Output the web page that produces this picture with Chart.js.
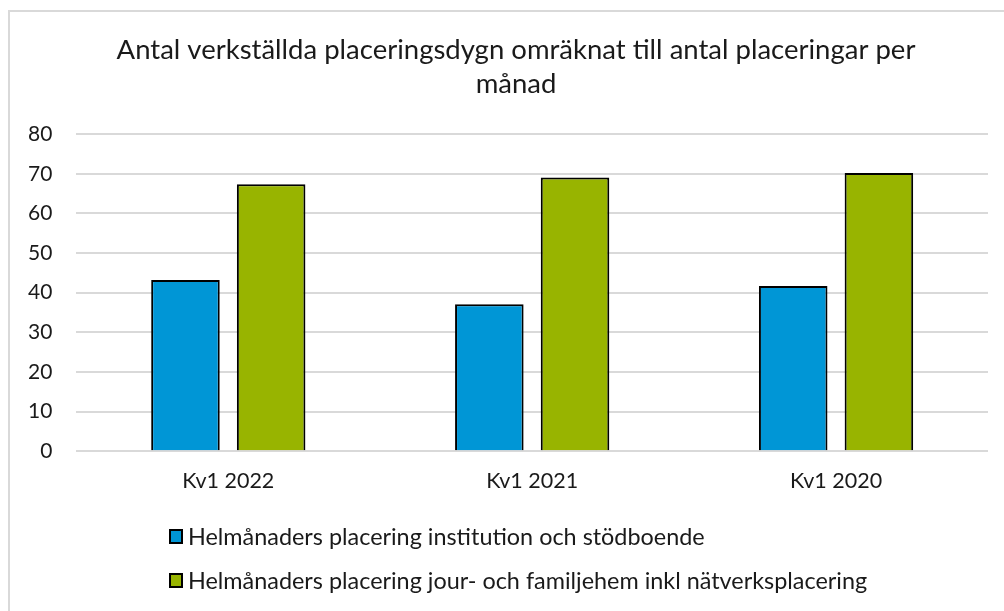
<!DOCTYPE html>
<html><head><meta charset="utf-8">
<script src="https://cdn.jsdelivr.net/npm/chart.js@4"></script>
<style>
html,body{margin:0;padding:0;width:1004px;height:611px;overflow:hidden;background:#fff;}
#frame{position:absolute;left:8px;top:10px;width:1100px;height:700px;border:2px solid #d9d9d9;box-sizing:border-box;}
#wrap{position:absolute;left:0;top:0;width:1004px;height:611px;}
#legend{position:absolute;left:169px;top:514px;font-family:'Lato','Open Sans',sans-serif;font-size:23.4px;color:#1a1a1a;}
.li{display:flex;align-items:center;height:44px;white-space:nowrap;}
.sw{width:10px;height:11px;border:2px solid #000;margin-right:5px;}
</style></head>
<body>
<div id="frame"></div>
<div id="wrap"><canvas id="c" width="1004" height="611"></canvas></div>
<div id="legend"></div>
<script>
const titleLines = ["Antal verkställda placeringsdygn omräknat till antal placeringar per", "månad"];
const categories = ["Kv1 2022", "Kv1 2021", "Kv1 2020"];
const seriesNames = ["Helmånaders placering institution och stödboende", "Helmånaders placering jour- och familjehem inkl nätverksplacering"];
const institution = [43.2, 37.1, 41.7];
const familjehem = [67.4, 69.1, 70.2];
const colors = ["#0096D6", "#98B400"];
const yTicks = [0, 10, 20, 30, 40, 50, 60, 70, 80];

const font = "'Lato','Open Sans',sans-serif";
const shiftTitle = {
  id: 'shiftTitle',
  afterLayout(chart) {
    if (chart.titleBlock) { chart.titleBlock.left += 20; chart.titleBlock.right += 20; }
  }
};
const chart = new Chart(document.getElementById('c'), {
  type: 'bar',
  data: {
    labels: categories,
    datasets: [
      {label: seriesNames[0], data: institution, backgroundColor: colors[0], borderColor: '#000', borderWidth: 2, categoryPercentage: 0.564, barPercentage: 0.80},
      {label: seriesNames[1], data: familjehem, backgroundColor: colors[1], borderColor: '#000', borderWidth: 2, categoryPercentage: 0.564, barPercentage: 0.80}
    ]
  },
  plugins: [shiftTitle],
  options: {
    responsive: false,
    animation: false,
    layout: {padding: {left: 4, right: 16, top: 33, bottom: 108}},
    plugins: {
      legend: {display: false},
      tooltip: {enabled: false},
      title: {display: true, text: titleLines, color: '#1a1a1a', font: {family: font, size: 27.5, weight: 'normal', lineHeight: 1.24}, padding: {top: 0, bottom: 33}}
    },
    scales: {
      x: {
        grid: {display: false},
        border: {display: false},
        ticks: {color: '#1a1a1a', font: {family: font, size: 21.5}, padding: 9}
      },
      y: {
        min: 0, max: 80,
        afterBuildTicks: (ax) => { ax.ticks = yTicks.map(v => ({value: v})); },
        grid: {color: '#d9d9d9', lineWidth: 2, drawTicks: false},
        border: {display: false},
        ticks: {color: '#1a1a1a', font: {family: font, size: 21}, padding: 24}
      }
    }
  }
});

const lg = document.getElementById('legend');
seriesNames.forEach((n, i) => {
  const d = document.createElement('div'); d.className = 'li';
  const s = document.createElement('span'); s.className = 'sw'; s.style.background = colors[i];
  const t = document.createElement('span'); t.textContent = n;
  d.appendChild(s); d.appendChild(t); lg.appendChild(d);
});
</script>
</body></html>
